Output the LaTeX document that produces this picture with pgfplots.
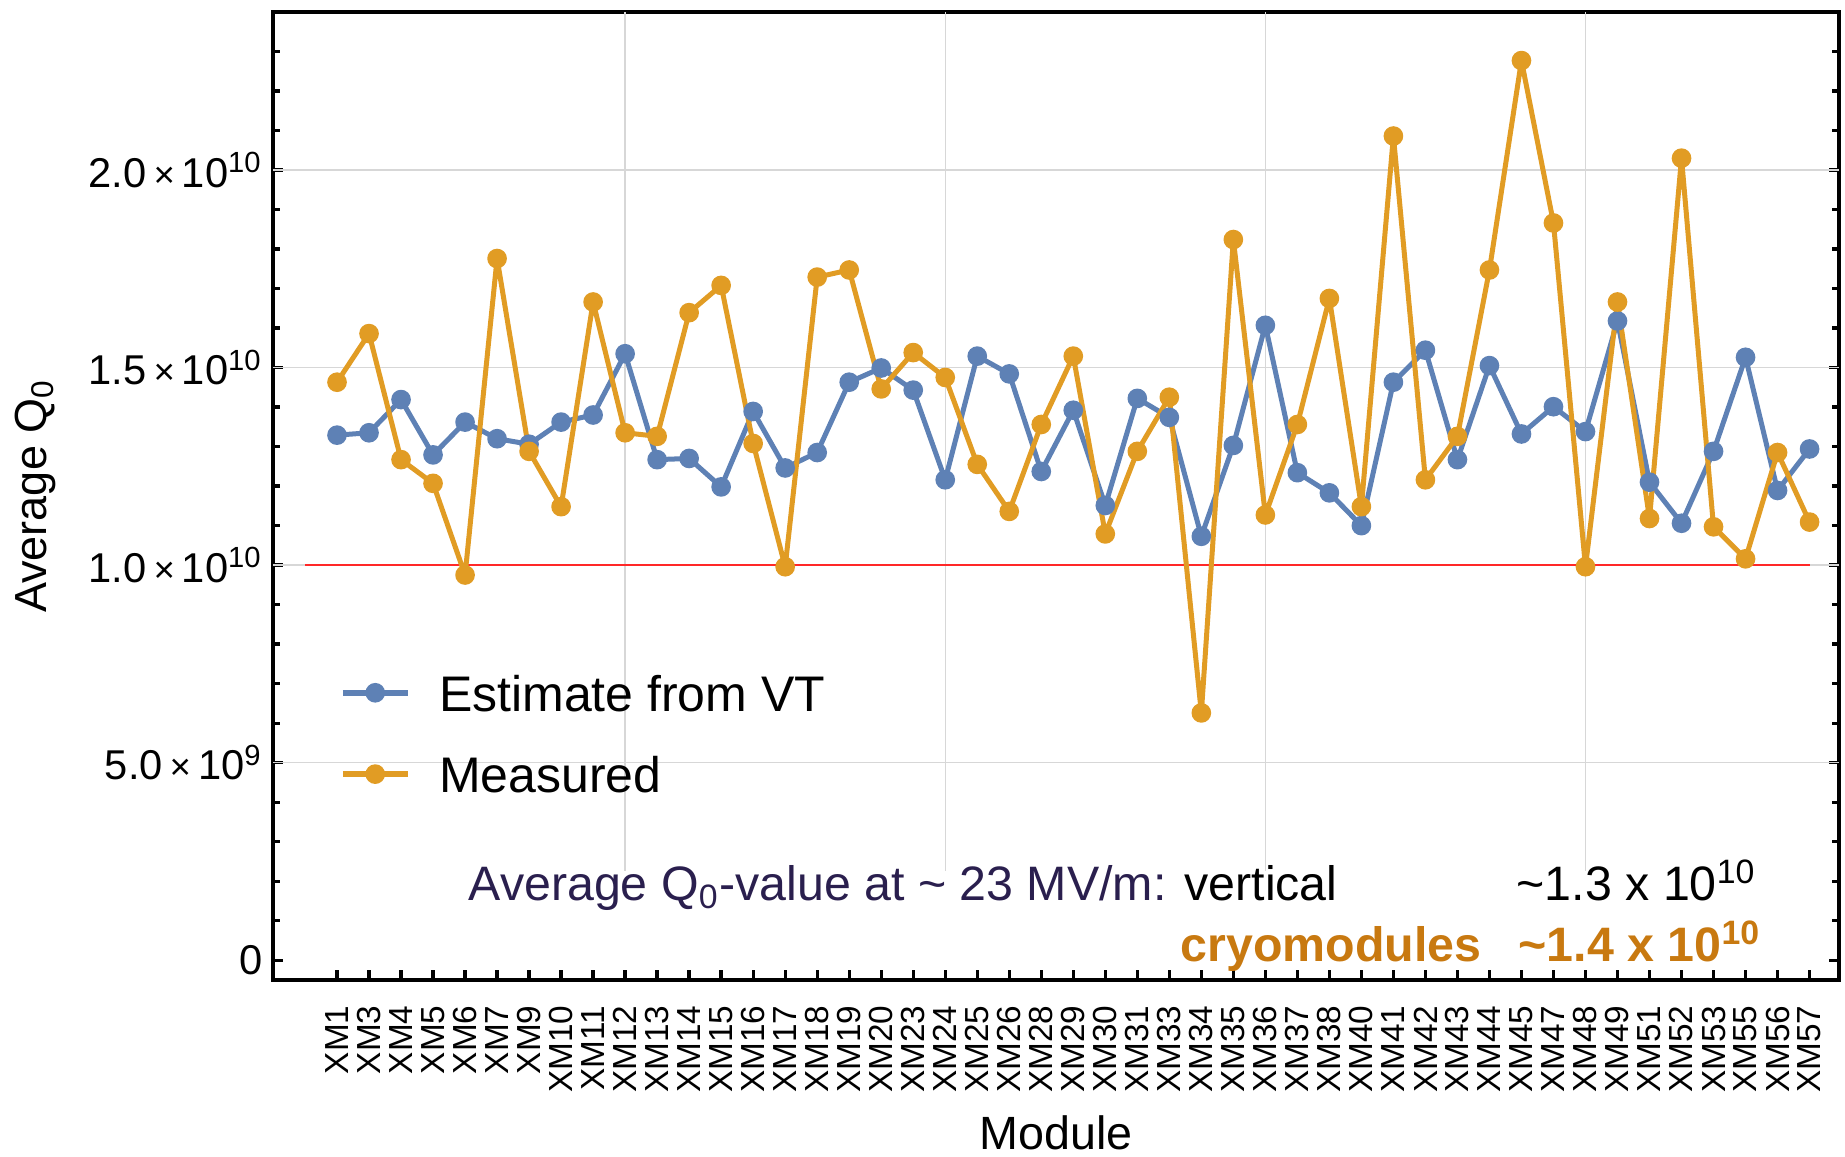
\documentclass[border=0pt]{standalone}
\usepackage{fontspec}
\setmainfont{Liberation Sans}
\usepackage{pgfplots}
\pgfplotsset{compat=1.18}
\definecolor{mblue}{RGB}{94,129,181}
\definecolor{morange}{RGB}{225,156,36}
\definecolor{tpurple}{RGB}{42,31,78}
\definecolor{torange}{RGB}{200,121,16}
\definecolor{mred}{RGB}{255,40,40}
\definecolor{gridgray}{RGB}{215,215,215}
\newcommand{\tl}[2]{#1\,{\fontsize{11}{11}\selectfont ×}\,10\textsuperscript{#2}}
\begin{document}
\begin{tikzpicture}
\begin{axis}[
  at={(0,0)}, anchor=south west, scale only axis,
  width=469.8pt, height=290.4pt,
  xmin=-1, xmax=47.92, ymin=-0.05e10, ymax=2.4e10,
  axis line style={line width=1.2pt},
  tick align=inside,
  xtick pos=bottom, ytick pos=both, yticklabel pos=left,
  xtick={1,...,47},
  xticklabels={XM1,XM3,XM4,XM5,XM6,XM7,XM9,XM10,XM11,XM12,XM13,XM14,XM15,XM16,XM17,XM18,XM19,XM20,XM23,XM24,XM25,XM26,XM28,XM29,XM30,XM31,XM33,XM34,XM35,XM36,XM37,XM38,XM40,XM41,XM42,XM43,XM44,XM45,XM47,XM48,XM49,XM51,XM52,XM53,XM55,XM56,XM57},
  ytick={0,5e9,1e10,1.5e10,2e10},
  yticklabels={0,\tl{5.0}{9},\tl{1.0}{10},\tl{1.5}{10},\tl{2.0}{10}},
  minor ytick={1e9,2e9,3e9,4e9,6e9,7e9,8e9,9e9,1.1e10,1.2e10,1.3e10,1.4e10,1.6e10,1.7e10,1.8e10,1.9e10,2.1e10,2.2e10,2.3e10},
  scaled y ticks=false,
  major tick length=3pt, minor tick length=2pt,
  every tick/.style={black, line width=1pt},
  xticklabel style={rotate=90, anchor=east, inner sep=0pt, font=\fontsize{10}{12}\selectfont},
  xticklabel shift=7.5pt,
  yticklabel style={inner sep=0pt, font=\fontsize{12.5}{14}\selectfont},
  yticklabel shift=3pt,
  xlabel={Module},
  xlabel style={at={(axis description cs:0.5,-0.1752)}, anchor=base, font=\fontsize{14}{16}\selectfont},
  ylabel={Average Q\textsubscript{0}},
  ylabel style={at={(axis description cs:-0.1654,0.5)}, anchor=north, inner sep=0pt, font=\fontsize{13.5}{16}\selectfont},
  legend style={at={(axis description cs:0.0422,0.2547)}, anchor=west, draw=none, fill=none,
    inner xsep=0pt, inner ysep=0pt, font=\fontsize{15}{18}\selectfont,
    row sep=13.4pt, column sep=8.5pt,
    nodes={inner sep=0pt, text height=11pt, text depth=0pt}},
  legend cell align=left,
  legend image code/.code={\draw[mark repeat=2,mark phase=2,#1,line width=1.8pt] plot coordinates {(0pt,0pt) (9.75pt,0pt) (19.5pt,0pt)};},
]
% grid lines
\draw[gridgray, line width=0.4pt] (axis cs:-1,5e9) -- (axis cs:47.92,5e9);
\draw[gridgray, line width=0.4pt] (axis cs:-1,1e10) -- (axis cs:47.92,1e10);
\draw[gridgray, line width=0.4pt] (axis cs:-1,1.5e10) -- (axis cs:47.92,1.5e10);
\draw[gridgray, line width=0.4pt] (axis cs:-1,2e10) -- (axis cs:47.92,2e10);
\draw[gridgray, line width=0.4pt] (axis cs:10,0.2265e10) -- (axis cs:10,2.4e10);
\draw[gridgray, line width=0.4pt] (axis cs:20,0.2265e10) -- (axis cs:20,2.4e10);
\draw[gridgray, line width=0.4pt] (axis cs:30,0.2265e10) -- (axis cs:30,2.4e10);
\draw[gridgray, line width=0.4pt] (axis cs:40,0.2265e10) -- (axis cs:40,2.4e10);

\addplot[mred, line width=0.5pt, forget plot] coordinates {(0,1e10) (47,1e10)};

\addplot[mblue, line width=1.5pt, line join=round, mark=*, mark size=2.7pt, mark options={fill=mblue, draw=mblue, line width=0.5pt}] coordinates {
(1,1.329e10)(2,1.335e10)(3,1.419e10)(4,1.279e10)(5,1.362e10)(6,1.320e10)(7,1.306e10)(8,1.362e10)(9,1.380e10)(10,1.535e10)(11,1.267e10)(12,1.270e10)(13,1.198e10)(14,1.389e10)(15,1.246e10)(16,1.285e10)(17,1.463e10)(18,1.499e10)(19,1.443e10)(20,1.216e10)(21,1.529e10)(22,1.484e10)(23,1.237e10)(24,1.392e10)(25,1.151e10)(26,1.422e10)(27,1.374e10)(28,1.073e10)(29,1.303e10)(30,1.607e10)(31,1.234e10)(32,1.183e10)(33,1.100e10)(34,1.463e10)(35,1.544e10)(36,1.267e10)(37,1.505e10)(38,1.332e10)(39,1.401e10)(40,1.338e10)(41,1.618e10)(42,1.210e10)(43,1.106e10)(44,1.288e10)(45,1.526e10)(46,1.189e10)(47,1.294e10)
};
\addlegendentry{Estimate from VT}

\addplot[morange, line width=1.5pt, line join=round, mark=*, mark size=2.7pt, mark options={fill=morange, draw=morange, line width=0.5pt}] coordinates {
(1,1.463e10)(2,1.586e10)(3,1.267e10)(4,1.207e10)(5,0.975e10)(6,1.776e10)(7,1.288e10)(8,1.148e10)(9,1.666e10)(10,1.335e10)(11,1.326e10)(12,1.639e10)(13,1.708e10)(14,1.308e10)(15,0.996e10)(16,1.729e10)(17,1.747e10)(18,1.446e10)(19,1.538e10)(20,1.475e10)(21,1.255e10)(22,1.136e10)(23,1.356e10)(24,1.529e10)(25,1.079e10)(26,1.288e10)(27,1.425e10)(28,0.626e10)(29,1.824e10)(30,1.127e10)(31,1.356e10)(32,1.675e10)(33,1.148e10)(34,2.086e10)(35,1.216e10)(36,1.326e10)(37,1.747e10)(38,2.277e10)(39,1.866e10)(40,0.996e10)(41,1.666e10)(42,1.118e10)(43,2.030e10)(44,1.097e10)(45,1.016e10)(46,1.285e10)(47,1.109e10)
};
\addlegendentry{Measured}
\end{axis}
\node[anchor=base west, inner sep=0pt, text=tpurple, font=\fontsize{14.5}{17}\selectfont] at (58.5pt,23.7pt) {Average Q\textsubscript{0}-value at \textasciitilde{} 23 MV/m: \textcolor{black}{vertical}};
\node[anchor=base west, inner sep=0pt, font=\fontsize{14.5}{17}\selectfont] at (372.9pt,23.7pt) {\textasciitilde1.3 x 10\textsuperscript{10}};
\node[anchor=base west, inner sep=0pt, text=torange, font=\bfseries\fontsize{14.5}{17}\selectfont] at (272.1pt,5.4pt) {cryomodules};
\node[anchor=base west, inner sep=0pt, text=torange, font=\bfseries\fontsize{14.5}{17}\selectfont] at (373.5pt,5.4pt) {\textasciitilde1.4 x 10\textsuperscript{10}};
\pgfresetboundingbox
\path[use as bounding box] (-81.9pt,-53.1pt) rectangle (471.6pt,294pt);
\end{tikzpicture}
\end{document}
